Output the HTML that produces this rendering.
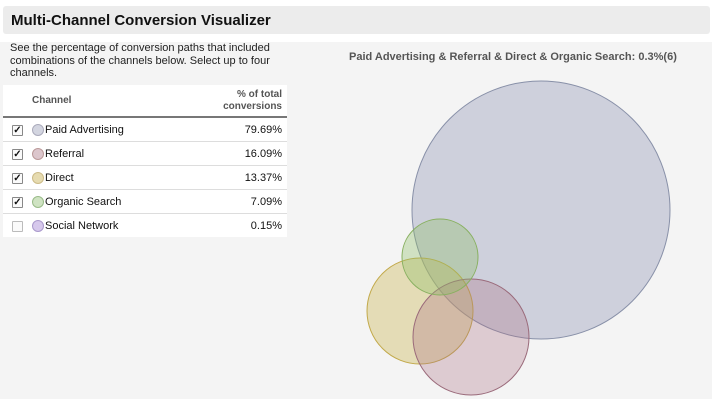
<!DOCTYPE html>
<html><head><meta charset="utf-8"><style>
body{margin:0;width:712px;height:400px;background:#fff;font-family:"Liberation Sans",sans-serif;position:relative;overflow:hidden}
.hdr{position:absolute;left:3px;top:6px;width:707px;height:28px;background:#ececec;border-radius:3px}
.hdr span{position:absolute;left:8px;top:6px;font-size:15px;font-weight:bold;color:#111}
.panel{position:absolute;left:0;top:42px;width:712px;height:357px;background:#f4f4f4}
.tbl{position:absolute;left:3px;top:85px;width:284px;height:152px;background:#fff}
.desc{position:absolute;left:10px;top:42px;width:270px;font-size:11px;line-height:12.5px;color:#222}
.th{position:absolute;font-size:10px;font-weight:bold;color:#555;line-height:12px}
.hline{position:absolute;left:3px;top:116px;width:284px;height:2px;background:#777}
.row{position:absolute;left:3px;width:284px;height:23px;border-bottom:1px solid #ddd;font-size:11px;color:#111}
.cb{position:absolute;left:9px;top:7px;width:9px;height:9px;border:1px solid #888;background:#fafafa;border-radius:1px;font-size:10px;line-height:9px;text-align:center;font-weight:bold}
.dot{position:absolute;left:29px;top:6px;width:10px;height:10px;border-radius:50%}
.nm{position:absolute;left:42px;top:6px}
.pc{position:absolute;right:5px;top:6px}
.title{position:absolute;left:349px;top:51px;font-size:11px;font-weight:bold;color:#555}
</style></head><body>
<div class="hdr"><span>Multi-Channel Conversion Visualizer</span></div>
<div class="panel"></div>
<div class="tbl"></div>
<div class="desc">See the percentage of conversion paths that included combinations of the channels below. Select up to four channels.</div>
<div class="th" style="left:32px;top:95px">Channel</div>
<div class="th" style="right:430px;top:89px;text-align:right">% of total<br>conversions</div>
<div class="hline"></div>
<div class="row" style="top:118px"><div class="cb">✓</div><div class="dot" style="background:#d3d5e0;border:1px solid #aab"></div><div class="nm">Paid Advertising</div><div class="pc">79.69%</div></div>
<div class="row" style="top:142px"><div class="cb">✓</div><div class="dot" style="background:#dcc6cc;border:1px solid #b99"></div><div class="nm">Referral</div><div class="pc">16.09%</div></div>
<div class="row" style="top:166px"><div class="cb">✓</div><div class="dot" style="background:#e6dbb0;border:1px solid #cb8"></div><div class="nm">Direct</div><div class="pc">13.37%</div></div>
<div class="row" style="top:190px"><div class="cb">✓</div><div class="dot" style="background:#cfe3c2;border:1px solid #9b8"></div><div class="nm">Organic Search</div><div class="pc">7.09%</div></div>
<div class="row" style="top:214px;border-bottom:none"><div class="cb" style="border-color:#bbb"></div><div class="dot" style="background:#d6c8ec;border:1px solid #a9c"></div><div class="nm">Social Network</div><div class="pc">0.15%</div></div>
<div class="title">Paid Advertising &amp; Referral &amp; Direct &amp; Organic Search: 0.3%(6)</div>
<svg style="position:absolute;left:0;top:0" width="712" height="400">
<circle cx="541" cy="210" r="129" fill="rgba(160,165,190,0.45)" stroke="#8890a8" stroke-width="1"/>
<circle cx="420" cy="311" r="53" fill="rgba(205,185,90,0.4)" stroke="#c2a94a" stroke-width="1"/>
<circle cx="471" cy="337" r="58" fill="rgba(170,110,130,0.3)" stroke="#9a6a7a" stroke-width="1"/>
<circle cx="440" cy="257" r="38" fill="rgba(140,190,100,0.35)" stroke="#88b060" stroke-width="1"/>
</svg>
</body></html>
